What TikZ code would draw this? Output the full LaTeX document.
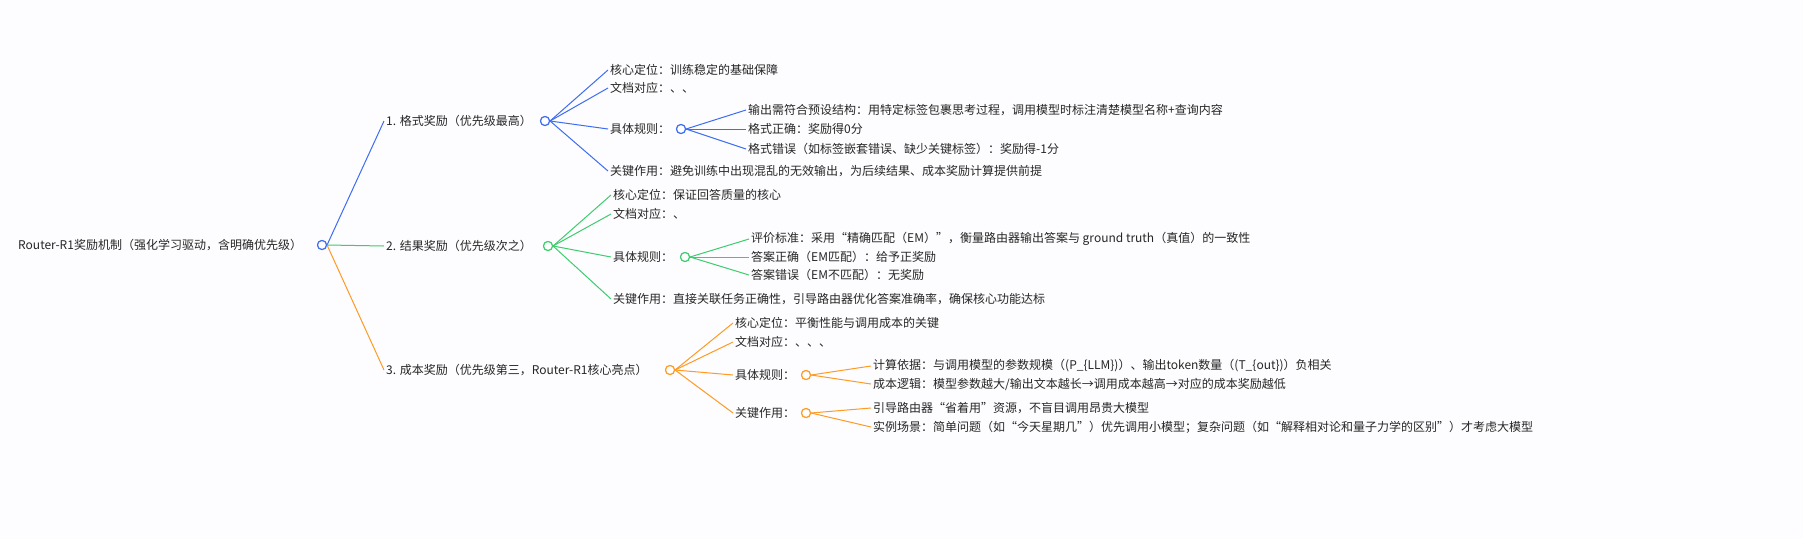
\documentclass[tikz,border=0pt]{standalone}
\usepackage{fontspec}
\setmainfont{Noto Sans CJK SC}
\begin{document}
\begin{tikzpicture}[x=1pt,y=-1pt,
  t/.style={anchor=west,inner sep=2pt,font=\fontsize{12}{14}\selectfont,text=black!85},
  dot/.style={circle,draw=#1,fill=white,line width=1.1pt,minimum size=9pt,inner sep=0pt},
  e/.style={draw=#1,line width=1pt}]
\definecolor{cb}{HTML}{3D6DF2}
\definecolor{cg}{HTML}{3DCC6E}
\definecolor{co}{HTML}{FF9A22}
\fill[white!97!blue!30!white] (0,0) rectangle (1803,539);
\useasboundingbox (0,0) rectangle (1803,539);
\newcommand{\ed}[3]{\draw[e=#1] (#2.east) .. controls ($(#2.east)!0.5!(#3.west)$ |- #2.east) and ($(#2.east)!0.5!(#3.west)$ |- #3.west) .. (#3.west);}
\usetikzlibrary{calc}
% root
\node[t] (r) at (16,245) {Router-R1奖励机制（强化学习驱动，含明确优先级）};
\node[dot=cb] (rc) at (322,245) {};
% branch 1
\node[t] (b1) at (384,121) {1. 格式奖励（优先级最高）};
\node[dot=cb] (b1c) at (545,121) {};
\node[t] (b1a) at (608,70) {核心定位：训练稳定的基础保障};
\node[t] (b1b) at (608,88) {文档对应：、、};
\node[t] (b1r) at (608,129) {具体规则：};
\node[dot=cb] (b1rc) at (681,129) {};
\node[t] (b1d) at (608,171) {关键作用：避免训练中出现混乱的无效输出，为后续结果、成本奖励计算提供前提};
\node[t] (b1r1) at (746,110) {输出需符合预设结构：用特定标签包裹思考过程，调用模型时标注清楚模型名称+查询内容};
\node[t] (b1r2) at (746,129) {格式正确：奖励得0分};
\node[t] (b1r3) at (746,149) {格式错误（如标签嵌套错误、缺少关键标签）：奖励得-1分};
% branch 2
\node[t] (b2) at (384,246) {2. 结果奖励（优先级次之）};
\node[dot=cg] (b2c) at (548,246) {};
\node[t] (b2a) at (611,195) {核心定位：保证回答质量的核心};
\node[t] (b2b) at (611,214) {文档对应：、};
\node[t] (b2r) at (611,257) {具体规则：};
\node[dot=cg] (b2rc) at (685,257) {};
\node[t] (b2d) at (611,299) {关键作用：直接关联任务正确性，引导路由器优化答案准确率，确保核心功能达标};
\node[t] (b2r1) at (749,239) {评价标准：采用“精确匹配（EM）”，衡量路由器输出答案与 ground truth（真值）的一致性};
\node[t] (b2r2) at (749,257) {答案正确（EM匹配）：给予正奖励};
\node[t] (b2r3) at (749,275) {答案错误（EM不匹配）：无奖励};
% branch 3
\node[t] (b3) at (384,370) {3. 成本奖励（优先级第三，Router-R1核心亮点）};
\node[dot=co] (b3c) at (670,370) {};
\node[t] (b3a) at (733,323) {核心定位：平衡性能与调用成本的关键};
\node[t] (b3b) at (733,342) {文档对应：、、、};
\node[t] (b3r) at (733,375) {具体规则：};
\node[dot=co] (b3rc) at (806,375) {};
\node[t] (b3d) at (733,413) {关键作用：};
\node[dot=co] (b3dc) at (806,413) {};
\node[t] (b3r1) at (871,366) {计算依据：与调用模型的参数规模（(P\_\{LLM\})）、输出token数量（(T\_\{out\})）负相关};
\node[t] (b3r2) at (871,384) {成本逻辑：模型参数越大/输出文本越长→调用成本越高→对应的成本奖励越低};
\node[t] (b3d1) at (871,408) {引导路由器“省着用”资源，不盲目调用昂贵大模型};
\node[t] (b3d2) at (871,427) {实例场景：简单问题（如“今天星期几”）优先调用小模型；复杂问题（如“解释相对论和量子力学的区别”）才考虑大模型};
% edges
\ed{cb}{rc}{b1} \ed{cg}{rc}{b2} \ed{co}{rc}{b3}
\ed{cb}{b1c}{b1a} \ed{cb}{b1c}{b1b} \ed{cb}{b1c}{b1r} \ed{cb}{b1c}{b1d}
\ed{cb}{b1rc}{b1r1} \ed{cb}{b1rc}{b1r2} \ed{cb}{b1rc}{b1r3}
\ed{cg}{b2c}{b2a} \ed{cg}{b2c}{b2b} \ed{cg}{b2c}{b2r} \ed{cg}{b2c}{b2d}
\ed{cg}{b2rc}{b2r1} \ed{cg}{b2rc}{b2r2} \ed{cg}{b2rc}{b2r3}
\ed{co}{b3c}{b3a} \ed{co}{b3c}{b3b} \ed{co}{b3c}{b3r} \ed{co}{b3c}{b3d}
\ed{co}{b3rc}{b3r1} \ed{co}{b3rc}{b3r2}
\ed{co}{b3dc}{b3d1} \ed{co}{b3dc}{b3d2}
% redraw dots on top
\foreach \n/\c in {rc/cb,b1c/cb,b1rc/cb,b2c/cg,b2rc/cg,b3c/co,b3rc/co,b3dc/co}{\node[dot=\c] at (\n) {};}
\end{tikzpicture}
\end{document}
